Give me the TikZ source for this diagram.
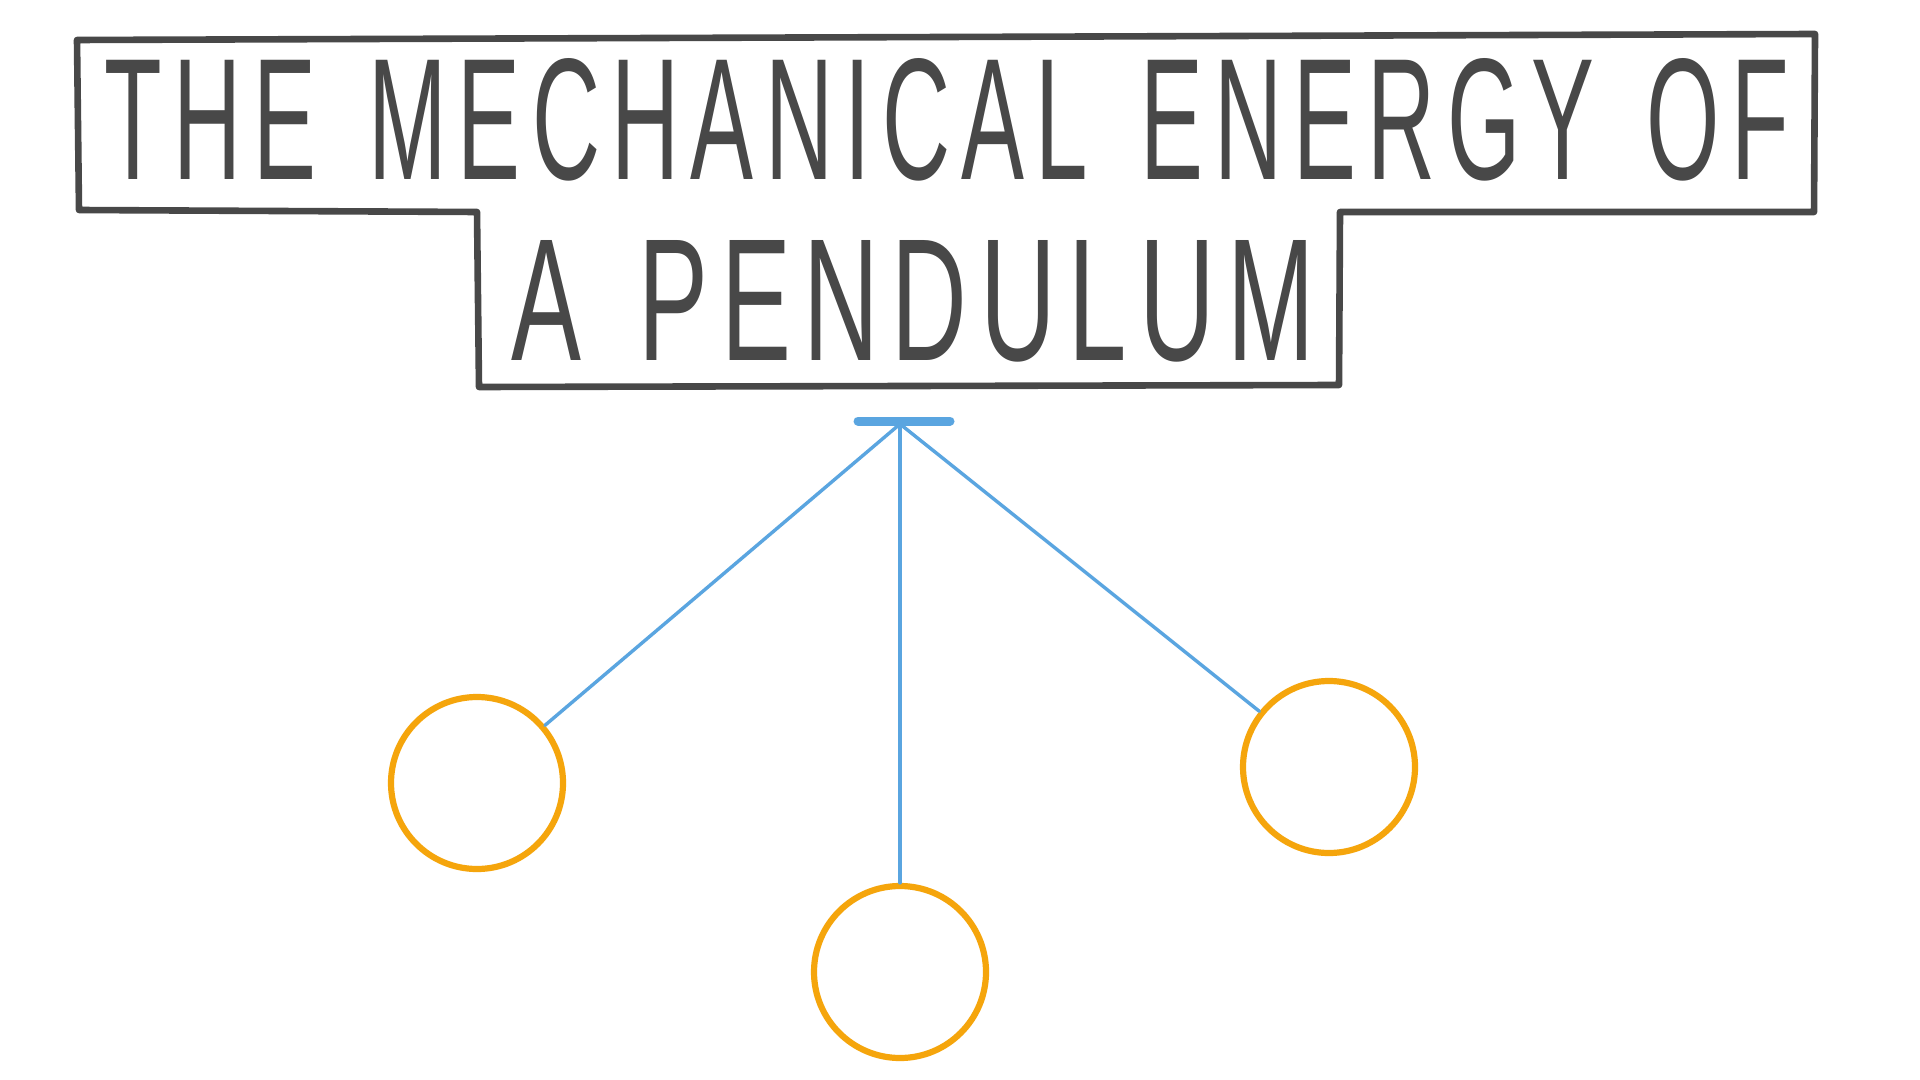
\documentclass[tikz,border=0pt]{standalone}
\usepackage{fontspec}
\setmainfont{Liberation Sans}
\newfontfamily\titlefont[LetterSpace=12]{Liberation Sans}
\usepackage{graphicx}
\usepackage{xcolor}
\definecolor{titlegray}{HTML}{484848}
\definecolor{stringblue}{HTML}{5AA5E0}
\definecolor{boborange}{HTML}{F5A50C}
\newcommand{\wsp}{\hspace{0.55em}}
\tikzset{
  titleline/.style={color=titlegray,line width=3.3pt,line join=round,line cap=round},
  titletext/.style={text=titlegray,inner sep=0pt,anchor=center,font=\titlefont},
  string/.style={color=stringblue,line width=1.7pt,line cap=round},
  bob/.style={circle,draw=boborange,line width=3.1pt,minimum size=86pt,inner sep=0pt},
}

\begin{document}
\begin{tikzpicture}[x=0.5pt,y=-0.5pt]
\useasboundingbox (0.000000,0.000000) rectangle (1920.000000,1080.000000);
\fill[white] (0.000000,0.000000) rectangle (1920.000000,1080.000000);
% Drawing title frame
\draw[titleline] (77.000000,40.000000) -- (1815.000000,34.000000) -- (1814.000000,212.000000)
  -- (1340.000000,212.000000) -- (1339.000000,385.000000) -- (479.000000,387.000000)
  -- (477.000000,212.000000) -- (79.000000,210.000000) -- cycle;
% Drawing title text
\node[titletext] (line1) at (947.000000,120.000000) {\resizebox{842pt}{60.5pt}{THE\wsp MECHANICAL\wsp ENERGY\wsp OF}};
\node[titletext] (line2) at (913.000000,301.000000) {\resizebox{402pt}{60pt}{A\wsp PENDULUM}};
% Drawing pivot
\draw[color=stringblue,line width=4.5pt,line cap=round] (858.000000,421.000000) -- (950.000000,421.000000);
\coordinate (pivot) at (900.000000,424.000000);
% Drawing bobs
\node[bob] (bobL) at (477.000000,783.000000) {};
\node[bob] (bobM) at (900.000000,972.000000) {};
\node[bob] (bobR) at (1329.000000,767.000000) {};
% Drawing strings
\draw[string] (pivot) -- (bobL);
\draw[string] (pivot) -- (bobM);
\draw[string] (pivot) -- (bobR);
\end{tikzpicture}
\end{document}
